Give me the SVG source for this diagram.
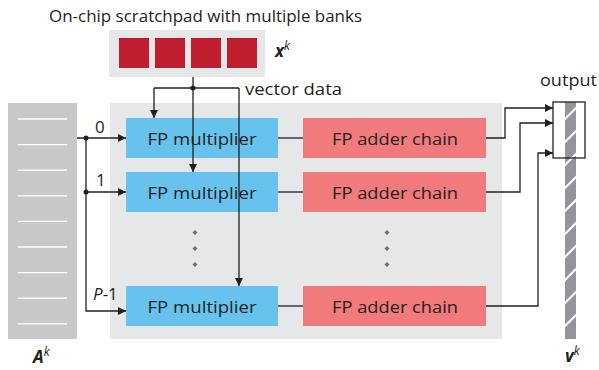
<svg xmlns="http://www.w3.org/2000/svg" width="599" height="370" viewBox="0 0 599 370">
<defs>
<marker id="arr" viewBox="0 0 10 10" refX="10" refY="5" markerWidth="8" markerHeight="8" markerUnits="userSpaceOnUse" orient="auto">
<path d="M0,0 L10,5 L0,10 z" fill="#231f20"/>
</marker>
<clipPath id="barclip"><rect x="565" y="102" width="11" height="237"/></clipPath>
</defs>
<style>
text{font-family:"Open Sans","Noto Sans","Liberation Sans",sans-serif;fill:#231f20}
.lbl{font-size:17px}
.node{font-size:17px;text-anchor:middle}
.mul{fill:#67c3ee}
.add{fill:#f07a7c}
.bank{fill:#be1e2d}
.ln{fill:none;stroke:#231f20;stroke-width:1.3}
.dot{fill:#231f20}
.ell{fill:#6d6e71}
.math{font-weight:bold;font-style:italic}
.sup{font-style:italic;font-size:12px}
</style>
<rect width="599" height="370" fill="#ffffff"/>

<text class="lbl" x="49" y="22" textLength="313" lengthAdjust="spacingAndGlyphs">On-chip scratchpad with multiple banks</text>

<g id="scratchpad">
<rect x="109" y="30" width="156" height="47" fill="#e6e7e8"/>
<rect class="bank" x="119" y="38" width="30" height="30"/>
<rect class="bank" x="155" y="38" width="30" height="30"/>
<rect class="bank" x="191" y="38" width="30" height="30"/>
<rect class="bank" x="227" y="38" width="30" height="30"/>
</g>
<text x="275" y="57"><tspan class="math" font-size="17">x</tspan><tspan class="sup" dy="-7">k</tspan></text>

<g id="matrixA">
<rect x="8" y="103" width="69" height="236" fill="#c7c8ca"/>
<g stroke="#ffffff" stroke-width="1.3">
<line x1="18" y1="119" x2="67" y2="119"/>
<line x1="18" y1="144.6" x2="67" y2="144.6"/>
<line x1="18" y1="170.2" x2="67" y2="170.2"/>
<line x1="18" y1="195.8" x2="67" y2="195.8"/>
<line x1="18" y1="221.4" x2="67" y2="221.4"/>
<line x1="18" y1="247" x2="67" y2="247"/>
<line x1="18" y1="272.6" x2="67" y2="272.6"/>
<line x1="18" y1="298.2" x2="67" y2="298.2"/>
<line x1="18" y1="323.8" x2="67" y2="323.8"/>
</g>
</g>
<text x="33" y="363"><tspan class="math" font-size="17">A</tspan><tspan class="sup" dy="-7">k</tspan></text>

<g id="core">
<rect x="110" y="103" width="392" height="236" fill="#e6e7e8"/>
</g>

<g id="mult0"><rect class="mul" x="126" y="118" width="152" height="40"/><text class="node" x="202" y="145" textLength="109" lengthAdjust="spacingAndGlyphs">FP multiplier</text></g>
<g id="mult1"><rect class="mul" x="126" y="172" width="152" height="40"/><text class="node" x="202" y="199" textLength="109" lengthAdjust="spacingAndGlyphs">FP multiplier</text></g>
<g id="multP"><rect class="mul" x="126" y="286" width="152" height="40"/><text class="node" x="202" y="313" textLength="109" lengthAdjust="spacingAndGlyphs">FP multiplier</text></g>

<g id="add0"><rect class="add" x="303" y="118" width="183" height="40"/><text class="node" x="395" y="145" textLength="126" lengthAdjust="spacingAndGlyphs">FP adder chain</text></g>
<g id="add1"><rect class="add" x="303" y="172" width="183" height="40"/><text class="node" x="395" y="199" textLength="126" lengthAdjust="spacingAndGlyphs">FP adder chain</text></g>
<g id="addP"><rect class="add" x="303" y="286" width="183" height="40"/><text class="node" x="395" y="313" textLength="126" lengthAdjust="spacingAndGlyphs">FP adder chain</text></g>

<g id="ellipsis">
<path class="ell" d="M195,230 l2.5,2.5 l-2.5,2.5 l-2.5,-2.5z M195,246 l2.5,2.5 l-2.5,2.5 l-2.5,-2.5z M195,262 l2.5,2.5 l-2.5,2.5 l-2.5,-2.5z"/>
<path class="ell" d="M387,230 l2.5,2.5 l-2.5,2.5 l-2.5,-2.5z M387,246 l2.5,2.5 l-2.5,2.5 l-2.5,-2.5z M387,262 l2.5,2.5 l-2.5,2.5 l-2.5,-2.5z"/>
</g>

<g id="outputV">
<rect x="553" y="102" width="32" height="56" fill="#ffffff"/>
<rect x="565" y="102" width="11" height="237" fill="#939598"/>
<g clip-path="url(#barclip)" stroke="#ffffff" stroke-width="2">
<line x1="563" y1="121" x2="578" y2="106"/>
<line x1="563" y1="144" x2="578" y2="129"/>
<line x1="563" y1="167" x2="578" y2="152"/>
<line x1="563" y1="190" x2="578" y2="175"/>
<line x1="563" y1="213" x2="578" y2="198"/>
<line x1="563" y1="236" x2="578" y2="221"/>
<line x1="563" y1="259" x2="578" y2="244"/>
<line x1="563" y1="282" x2="578" y2="267"/>
<line x1="563" y1="305" x2="578" y2="290"/>
<line x1="563" y1="328" x2="578" y2="313"/>
</g>
<rect x="553" y="102" width="32" height="56" fill="none" stroke="#231f20" stroke-width="1.3"/>
</g>
<text class="lbl" x="540" y="86" textLength="57" lengthAdjust="spacingAndGlyphs">output</text>
<text x="565" y="362"><tspan class="math" font-size="17">v</tspan><tspan class="sup" dy="-7">k</tspan></text>

<g id="connectors">
<path class="ln" d="M193,77 V88"/>
<path class="ln" d="M154,88 H239"/>
<path class="ln" d="M154,88 V118" marker-end="url(#arr)"/>
<path class="ln" d="M193,88 V172" marker-end="url(#arr)"/>
<path class="ln" d="M239,88 V286" marker-end="url(#arr)"/>
<circle class="dot" cx="193" cy="88" r="2.5"/>

<path class="ln" d="M77,138 H126" marker-end="url(#arr)"/>
<path class="ln" d="M86,138 V311 H126" marker-end="url(#arr)"/>
<path class="ln" d="M86,192 H126" marker-end="url(#arr)"/>
<circle class="dot" cx="86" cy="138" r="2.5"/>
<circle class="dot" cx="86" cy="192" r="2.5"/>

<path class="ln" d="M278,138 H303"/>
<path class="ln" d="M278,192 H303"/>
<path class="ln" d="M278,306 H303"/>

<path class="ln" d="M486,138 H505 V108 H553" marker-end="url(#arr)"/>
<path class="ln" d="M486,192 H520 V123 H553" marker-end="url(#arr)"/>
<path class="ln" d="M486,306 H538 V153 H553" marker-end="url(#arr)"/>
</g>

<text class="lbl" x="245" y="95" textLength="97" lengthAdjust="spacingAndGlyphs">vector data</text>
<text class="lbl" x="95" y="133">0</text>
<text class="lbl" x="96" y="186">1</text>
<text class="lbl" x="93" y="300"><tspan font-style="italic">P</tspan>-1</text>
</svg>
